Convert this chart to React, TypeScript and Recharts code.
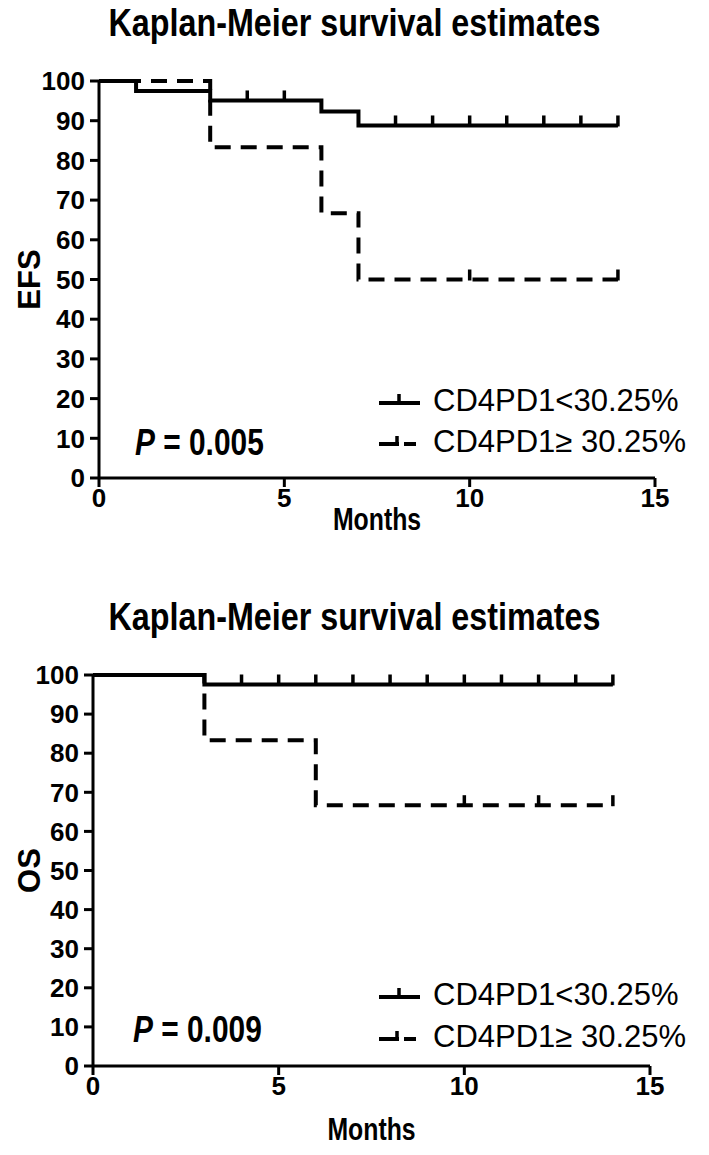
import React from 'react';
import { ComposedChart, Line, Scatter, XAxis, YAxis } from 'recharts';

const monthTicks = [0, 5, 10, 15];
const pctTicks = [0, 10, 20, 30, 40, 50, 60, 70, 80, 90, 100];
const groupNames = ['CD4PD1<30.25%', 'CD4PD1\u2265 30.25%'];

// EFS panel
const efsLowTime = [0, 1, 3, 6, 7, 14];
const efsLowSurv = [100, 97.5, 95.1, 92.3, 88.8, 88.8];
const efsLowCensor = [4, 5, 8, 9, 10, 11, 12, 13, 14];
const efsHighTime = [0, 3, 6, 7, 14];
const efsHighSurv = [100, 83.3, 66.7, 50, 50];
const efsHighCensor = [10, 14];

// OS panel
const osLowTime = [0, 3, 14];
const osLowSurv = [100, 97.6, 97.6];
const osLowCensor = [4, 5, 6, 7, 8, 9, 10, 11, 12, 13, 14];
const osHighTime = [0, 3, 6, 14];
const osHighSurv = [100, 83.3, 66.7, 66.7];
const osHighCensor = [10, 12, 14];

const FONT = "'Liberation Sans', Arial, sans-serif";

const steps = (t: number[], s: number[]) => t.map((v, i) => ({ t: v, s: s[i] }));

// survival level at a censoring time, read from the step data
const censored = (t: number[], s: number[], c: number[]) =>
	c.map((ct) => {
		let k = 0;
		t.forEach((v, i) => {
			if (v <= ct) k = i;
		});
		return { t: ct, s: s[k] };
	});

const CensorTick = (p: any) => (
	<line x1={p.cx} x2={p.cx} y1={p.cy - 10} y2={p.cy + 1} stroke="#000" strokeWidth={3.5} />
);

function LegendRow({ top, left, dashed, text }: any) {
	return (
		<div style={{ position: 'absolute', top, left, height: 30, display: 'flex', alignItems: 'center' }}>
			<svg width={42} height={30}>
				{dashed ? (
					<>
						<line x1={0} x2={20} y1={17} y2={17} stroke="#000" strokeWidth={4} />
						<line x1={18} x2={18} y1={9} y2={18} stroke="#000" strokeWidth={3.5} />
						<line x1={25} x2={37} y1={17} y2={17} stroke="#000" strokeWidth={4} />
					</>
				) : (
					<>
						<line x1={0} x2={41} y1={17} y2={17} stroke="#000" strokeWidth={4} />
						<line x1={20} x2={20} y1={8} y2={18} stroke="#000" strokeWidth={3.5} />
					</>
				)}
			</svg>
			<span style={{ marginLeft: 12, fontFamily: FONT, fontSize: 31, lineHeight: '30px', color: '#000' }}>{text}</span>
		</div>
	);
}

function Panel(props: any) {
	const { top, axisW, rightGap, plotH, yLabel, pValue, pPos, legendTop, monthsY, low, high, lowCens, highCens } = props;
	const plotTop = 81;
	const plotMid = (axisW + 709 - rightGap) / 2;
	const tickStyle = { fontFamily: FONT, fontSize: 26, fontWeight: 700, fill: '#000' };
	return (
		<>
			<div
				style={{
					position: 'absolute',
					top: top + 4,
					left: 0,
					width: 709,
					textAlign: 'center',
					fontFamily: FONT,
					fontWeight: 700,
					fontSize: 38,
					lineHeight: '38px',
					color: '#000',
					transform: 'scaleX(0.85)',
					transformOrigin: '354px 50%',
				}}
			>
				Kaplan-Meier survival estimates
			</div>
			<div style={{ position: 'absolute', top, left: 0 }}>
				<ComposedChart
					width={709}
					height={plotTop + plotH + 90}
					margin={{ top: plotTop, right: rightGap, left: 0, bottom: 0 }}
				>
					<XAxis
						dataKey="t"
						type="number"
						domain={[0, 15]}
						ticks={monthTicks}
						allowDataOverflow
						height={90}
						tickSize={9}
						tickMargin={2}
						tick={tickStyle}
						axisLine={{ stroke: '#000', strokeWidth: 3 }}
						tickLine={{ stroke: '#000', strokeWidth: 3 }}
						label={{
							content: () => (
								<text
									transform={`translate(${plotMid} ${plotTop + plotH + monthsY}) scale(0.8 1)`}
									textAnchor="middle"
									style={{ fontFamily: FONT, fontSize: 31, fontWeight: 700, fill: '#000' }}
								>
									Months
								</text>
							),
						}}
					/>
					<YAxis
						type="number"
						domain={[0, 100]}
						ticks={pctTicks}
						interval={0}
						width={axisW}
						tickSize={9}
						tickMargin={5}
						tick={tickStyle}
						axisLine={{ stroke: '#000', strokeWidth: 3 }}
						tickLine={{ stroke: '#000', strokeWidth: 3 }}
						label={{
							content: () => (
								<text
									x={29}
									y={plotTop + plotH / 2}
									transform={`rotate(-90 29 ${plotTop + plotH / 2})`}
									textAnchor="middle"
									dominantBaseline="central"
									style={{ fontFamily: FONT, fontSize: 31, fontWeight: 700, fill: '#000' }}
								>
									{yLabel}
								</text>
							),
						}}
					/>
					<Line
						data={low}
						dataKey="s"
						type="stepAfter"
						stroke="#000"
						strokeWidth={4}
						dot={false}
						isAnimationActive={false}
					/>
					<Line
						data={high}
						dataKey="s"
						type="stepAfter"
						stroke="#000"
						strokeWidth={4}
						strokeDasharray="16 10"
						dot={false}
						isAnimationActive={false}
					/>
					<Scatter data={lowCens} dataKey="s" shape={CensorTick} isAnimationActive={false} />
					<Scatter data={highCens} dataKey="s" shape={CensorTick} isAnimationActive={false} />
				</ComposedChart>
			</div>
			<LegendRow top={top + legendTop[0] - 15} left={379} dashed={false} text={groupNames[0]} />
			<LegendRow top={top + legendTop[1] - 15} left={379} dashed text={groupNames[1]} />
			<div
				style={{
					position: 'absolute',
					top: top + pPos[1] - 18,
					left: pPos[0],
					fontFamily: FONT,
					fontWeight: 700,
					fontSize: 36,
					lineHeight: '36px',
					color: '#000',
					whiteSpace: 'nowrap',
					transform: 'scaleX(0.83)',
					transformOrigin: 'left center',
				}}
			>
				<i>P</i> = {pValue}
			</div>
		</>
	);
}

export default function App() {
	return (
		<div style={{ position: 'absolute', left: 0, top: 0, width: 709, height: 1155, background: '#fff' }}>
			<Panel
				top={0}
				axisW={99}
				rightGap={54}
				plotH={397}
				yLabel="EFS"
				pValue="0.005"
				pPos={[135, 443]}
				legendTop={[401, 442]}
				monthsY={52}
				low={steps(efsLowTime, efsLowSurv)}
				high={steps(efsHighTime, efsHighSurv)}
				lowCens={censored(efsLowTime, efsLowSurv, efsLowCensor)}
				highCens={censored(efsHighTime, efsHighSurv, efsHighCensor)}
			/>
			<Panel
				top={594}
				axisW={93}
				rightGap={59}
				plotH={391}
				yLabel="OS"
				pValue="0.009"
				pPos={[133, 436]}
				legendTop={[401, 443]}
				monthsY={74}
				low={steps(osLowTime, osLowSurv)}
				high={steps(osHighTime, osHighSurv)}
				lowCens={censored(osLowTime, osLowSurv, osLowCensor)}
				highCens={censored(osHighTime, osHighSurv, osHighCensor)}
			/>
		</div>
	);
}
